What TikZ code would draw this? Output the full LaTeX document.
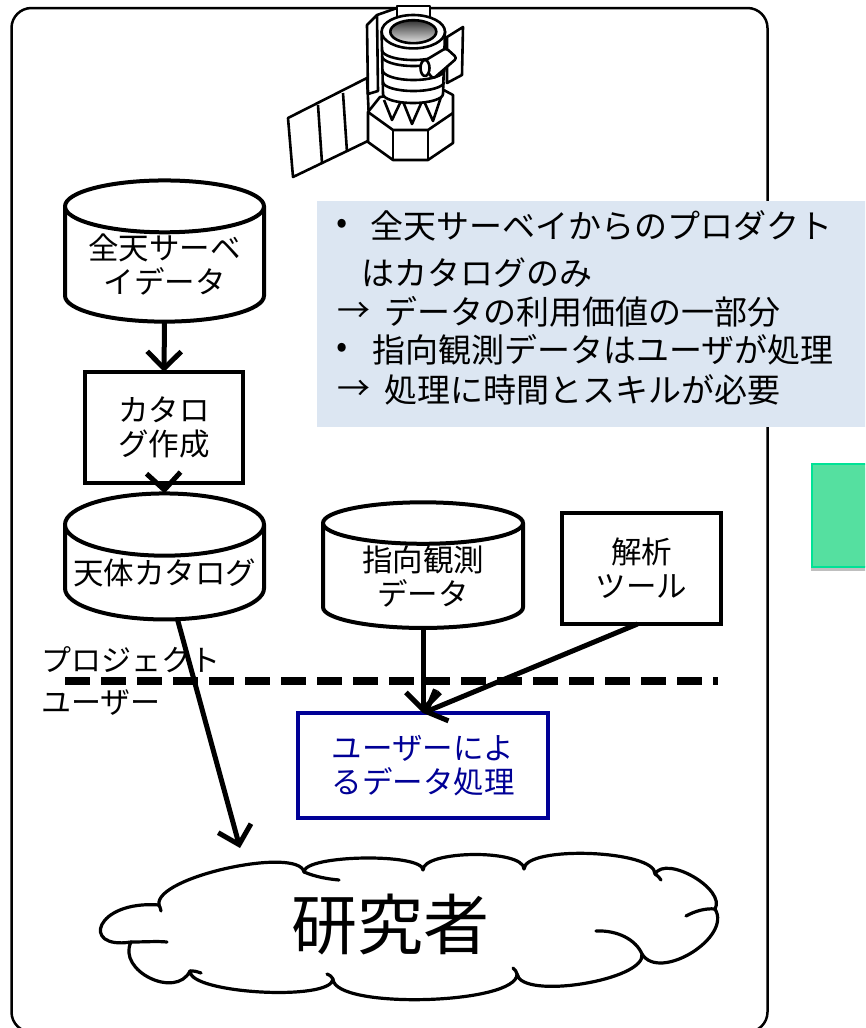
\documentclass[tikz,border=0pt]{standalone}
\usepackage{fontspec}
\setmainfont{Noto Sans CJK JP}
\usetikzlibrary{arrows.meta,shapes.geometric,shadows}

\definecolor{notefill}{RGB}{220,230,242}
\definecolor{procblue}{RGB}{0,0,150}
\definecolor{tagfill}{RGB}{85,224,160}
\definecolor{tagedge}{RGB}{0,226,150}

\begin{document}
\begin{tikzpicture}[x=1pt,y=-1pt,
  every node/.style={inner sep=0pt, outer sep=0pt},
  boxtext/.style={font=\fontsize{30.5}{34}\selectfont, align=center},
  store/.style={cylinder, shape border rotate=90, draw, line width=4pt,
    aspect=0.34, minimum width=199pt, fill=white, boxtext},
  stepbox/.style={rectangle, draw, line width=4pt, fill=white, boxtext},
  flow/.style={line width=5pt, -{Straight Barb[length=17pt,width=34pt]}},
  notetext/.style={font=\fontsize{33}{40}\selectfont, anchor=west},
  sidelabel/.style={font=\fontsize{30}{34}\selectfont, anchor=west},
  cloudline/.style={line width=3.2pt, line cap=round, line join=round},
  sat/.style={line width=2.6pt, line join=round},
]
\useasboundingbox (0,0) rectangle (865,1028);
\clip (0,0) rectangle (865,1028);

% outer frame
\draw[line width=2.5pt, rounded corners=20pt] (11.5,8) rectangle (767.5,1032);

% satellite icon
\begin{scope}[sat]
  % solar wing
  \draw[fill=white] (288,118) -- (367,78) -- (370,140) -- (293,177) -- cycle;
  \draw (318,105) -- (322,163);
  \draw (343,93) -- (347,152);
  % rear plates
  \draw[fill=white] (367,25) -- (377,15) -- (378,91) -- (368,94) -- cycle;
  \draw (377,15) -- (397,8);
  \draw[fill=white] (447,37) -- (463,27) -- (462,75) -- (447,83) -- cycle;
  % hexagonal bus
  \draw[fill=white] (368,112) -- (380,97) -- (440,88) -- (453,95) -- (453,143)
    -- (428,160) -- (393,160) -- (368,142) -- cycle;
  \draw (368,112) -- (393,130) -- (428,130) -- (453,113);
  \draw (393,130) -- (393,160);
  \draw (428,130) -- (428,160);
  % struts
  \draw (384,100) -- (392,120) -- (402,99) -- (412,124) -- (423,99) -- (433,121) -- (441,97);
  % top box
  \draw[fill=white] (397,6) rectangle (430,17);
  % telescope tube
  \draw[fill=white] (381.6,31.7) -- (383,94)
    arc[start angle=180, end angle=0, x radius=30, y radius=9] -- (445,31.7) -- cycle;
  \draw (382,50) arc[start angle=180, end angle=0, x radius=31.5, y radius=10];
  \draw (382,56) arc[start angle=180, end angle=0, x radius=31.5, y radius=10];
  \draw (382.5,70) arc[start angle=180, end angle=0, x radius=31, y radius=10];
  \draw (383,82) arc[start angle=180, end angle=0, x radius=30.5, y radius=9];
  % aperture
  \draw[fill=white] (413.3,31.7) ellipse [x radius=31.7, y radius=16.7];
  \draw[top color=black!80, bottom color=black!10] (413.3,31.7) ellipse [x radius=23, y radius=11.5];
  % side pod
  \draw[fill=white, rounded corners=3pt] (421,63) -- (446,48) -- (457,58) -- (433,79) -- cycle;
  \draw[fill=white] (425,68) ellipse [x radius=4.5, y radius=8];
\end{scope}

% note panel
\fill[notefill] (317,201) rectangle (870,427);
\node[notetext] (n1b) at (336,226) {•};
\node[notetext] (n1) at (370,226) {全天サーベイからのプロダクト};
\node[notetext] (n2) at (361,273) {はカタログのみ};
\node[notetext] (n3a) at (337,312) {→};
\node[notetext] (n3) at (384,312) {データの利用価値の一部分};
\node[notetext] (n4b) at (336,350) {•};
\node[notetext] (n4) at (372,350) {指向観測データはユーザが処理};
\node[notetext] (n5a) at (337,390) {→};
\node[notetext] (n5) at (384,390) {処理に時間とスキルが必要};

% green tag at the right edge
\node[rectangle, fill=tagfill, draw=tagedge, line width=2pt,
  minimum width=58pt, minimum height=103pt,
  drop shadow={shadow xshift=-1pt, shadow yshift=-4pt, fill=black, opacity=0.25}]
  (tag) at (841,515.5) {};

% data flow
\node[store, minimum height=124pt] (sky) at (164.5,265) {全天サーベ\\イデータ};
\node[stepbox, minimum width=158pt, minimum height=111pt] (mk) at (164,427.5) {カタロ\\グ作成};
\node[store, minimum height=126pt] (cat) at (164.5,573) {天体カタログ};
\node[store, minimum width=200pt, minimum height=113pt] (obs) at (423,576.5) {指向観測\\データ};
\node[stepbox, minimum width=159pt, minimum height=111pt] (tool) at (641.5,568.5) {解析\\ツール};
\node[stepbox, draw=procblue, text=procblue, minimum width=250pt, minimum height=105pt]
  (proc) at (423,765.5) {ユーザーによ\\るデータ処理};

% project / user boundary
\draw[line width=8pt, dash pattern=on 25pt off 11pt] (65,681) -- (718,681);
\node[sidelabel] (lproj) at (41,660) {プロジェクト};
\node[sidelabel] (luser) at (41,703) {ユーザー};

% researchers cloud
\draw[cloudline, fill=white] (159,905)
  .. controls (153.4,876.9) and (298.4,845.9) .. (304,872)
  .. controls (303.7,854.7) and (422.7,852.7) .. (423,870)
  .. controls (423,850) and (524,849) .. (524,869)
  .. controls (524.9,845) and (655.9,850) .. (655,874)
  .. controls (666.4,854.4) and (726.4,889.4) .. (715,909)
  .. controls (732.5,937.3) and (659.5,982.3) .. (642,954)
  .. controls (646.2,980.3) and (521.2,1000.3) .. (517,974)
  .. controls (517.8,1004.7) and (333.8,1009.7) .. (333,979)
  .. controls (331.7,1001.6) and (188.7,993.6) .. (190,971)
  .. controls (175.9,999.7) and (116.9,970.7) .. (131,942)
  .. controls (80,950) and (95,900) .. (159,905) -- cycle;
\draw[cloudline] (304,872) .. controls (316,877) and (328,879) .. (339,880);
\draw[cloudline] (596,931) .. controls (618,930) and (636,940) .. (642,954);
\draw[cloudline] (686,916) .. controls (695,911) and (706,908) .. (715,909);
\draw[cloudline] (131,942) .. controls (145,942) and (157,941) .. (167,942);
\draw[cloudline] (159,905) .. controls (160,907) .. (161,911);
\draw[cloudline] (190,971) .. controls (195,971) .. (201,973);
\draw[cloudline] (655,874) .. controls (658,876) .. (661,880);
\draw[cloudline] (517,974) .. controls (516,971) .. (513,968);
\draw[cloudline] (333,979) .. controls (331,976) .. (327,974);
\node[font=\fontsize{66}{70}\selectfont] (res) at (390,925) {研究者};
\coordinate (resin) at (240,848);

% arrows
\draw[flow] (sky.south) -- (mk.north);
\draw[flow] (mk.south) -- (cat.north);
\draw[flow] ([xshift=13pt]cat.south) -- (resin);
\draw[flow] (obs.south) -- (proc.north);
\draw[flow] ([xshift=-4pt]tool.south) -- (proc.north);
\end{tikzpicture}
\end{document}
